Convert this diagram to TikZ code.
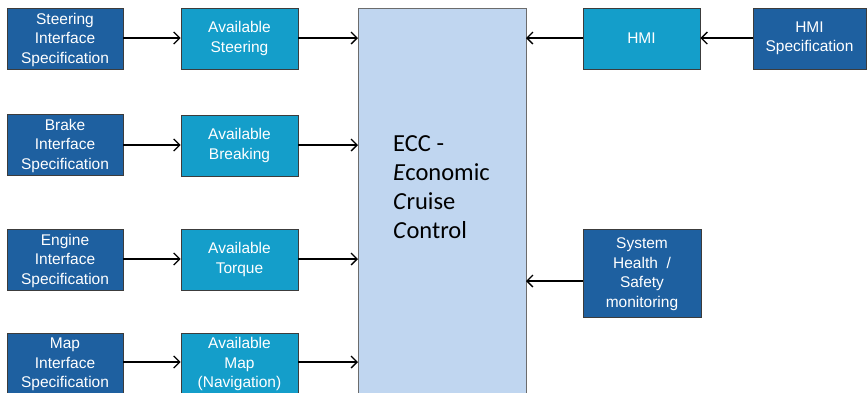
\documentclass[tikz,border=0pt]{standalone}
\usepackage{fontspec}
\setmainfont{Liberation Sans}
\newfontfamily\ecfont{Carlito}
\usetikzlibrary{arrows.meta}
\definecolor{specblue}{RGB}{30,96,160}
\definecolor{availcyan}{RGB}{20,158,202}
\definecolor{eccfill}{RGB}{192,214,240}
\definecolor{edgegray}{RGB}{60,60,60}
\tikzset{
  base/.style={draw=edgegray, line width=0.8pt, text=white, align=center,
    font=\fontsize{15.5}{19.5}\selectfont, inner sep=0pt},
  spec/.style={base, fill=specblue},
  avail/.style={base, fill=availcyan},
  flow/.style={line width=1.3pt, -{Straight Barb[length=6pt, width=12pt, line width=1.3pt]}}
}
\begin{document}
\begin{tikzpicture}[x=1pt, y=-1pt]
\useasboundingbox (0,0) rectangle (868,392);
% central controller block
\path[fill=eccfill, draw=gray!85!black, line width=0.8pt] (358,8) rectangle (526,400);
\node (ecc) [anchor=north west, align=left, font=\ecfont\fontsize{24.5}{29}\selectfont, inner sep=0pt]
  at (393,135) {ECC -\\\textit{E}conomic\\\textit{C}ruise\\\textit{C}ontrol};
\coordinate (eccL1) at (358,38);
\coordinate (eccL2) at (358,145);
\coordinate (eccL3) at (358,259);
\coordinate (eccL4) at (358,362);
\coordinate (eccR1) at (526,38);
\coordinate (eccR2) at (526,281);
% interface specifications
\node (ss) [spec, minimum width=116pt, minimum height=61pt] at (65,38.5) {\strut Steering\\Interface\\Specification};
\node (bs) [spec, minimum width=116pt, minimum height=61pt] at (65,144.5) {\strut Brake\\Interface\\Specification};
\node (es) [spec, minimum width=116pt, minimum height=61pt] at (65,259.5) {\strut Engine\\Interface\\Specification};
\node (ms) [spec, minimum width=116pt, minimum height=60pt] at (65,363) {\strut Map\\Interface\\Specification};
% available signals
\node (sa) [avail, minimum width=117pt, minimum height=61pt] at (239.5,38.5) {Available\\Steering};
\node (ba) [avail, minimum width=117pt, minimum height=61pt] at (239.5,145.5) {Available\\Breaking};
\node (ea) [avail, minimum width=117pt, minimum height=61pt] at (239.5,259.5) {Available\\Torque};
\node (ma) [avail, minimum width=117pt, minimum height=60pt] at (239.5,363) {\strut Available\\Map\\(Navigation)};
% right-hand inputs
\node (hmi) [avail, minimum width=117pt, minimum height=61pt] at (641.5,38.5) {HMI};
\node (hs) [spec, minimum width=113pt, minimum height=61pt] at (809.5,38.5) {HMI\\Specification};
\node (sh) [spec, minimum width=118pt, minimum height=88pt] at (642,273) {\strut System\\Health~~/\\Safety\\monitoring};
% connectors
\draw[flow] (ss.east |- 0,38) -- (sa.west |- 0,38);
\draw[flow] (sa.east |- 0,38) -- (eccL1);
\draw[flow] (bs.east |- 0,145) -- (ba.west |- 0,145);
\draw[flow] (ba.east |- 0,145) -- (eccL2);
\draw[flow] (es.east |- 0,259) -- (ea.west |- 0,259);
\draw[flow] (ea.east |- 0,259) -- (eccL3);
\draw[flow] (ms.east |- 0,362) -- (ma.west |- 0,362);
\draw[flow] (ma.east |- 0,362) -- (eccL4);
\draw[flow] (hs.west |- 0,38) -- (hmi.east |- 0,38);
\draw[flow] (hmi.west |- 0,38) -- (eccR1);
\draw[flow] (sh.west |- 0,281) -- (eccR2);
\end{tikzpicture}
\end{document}
